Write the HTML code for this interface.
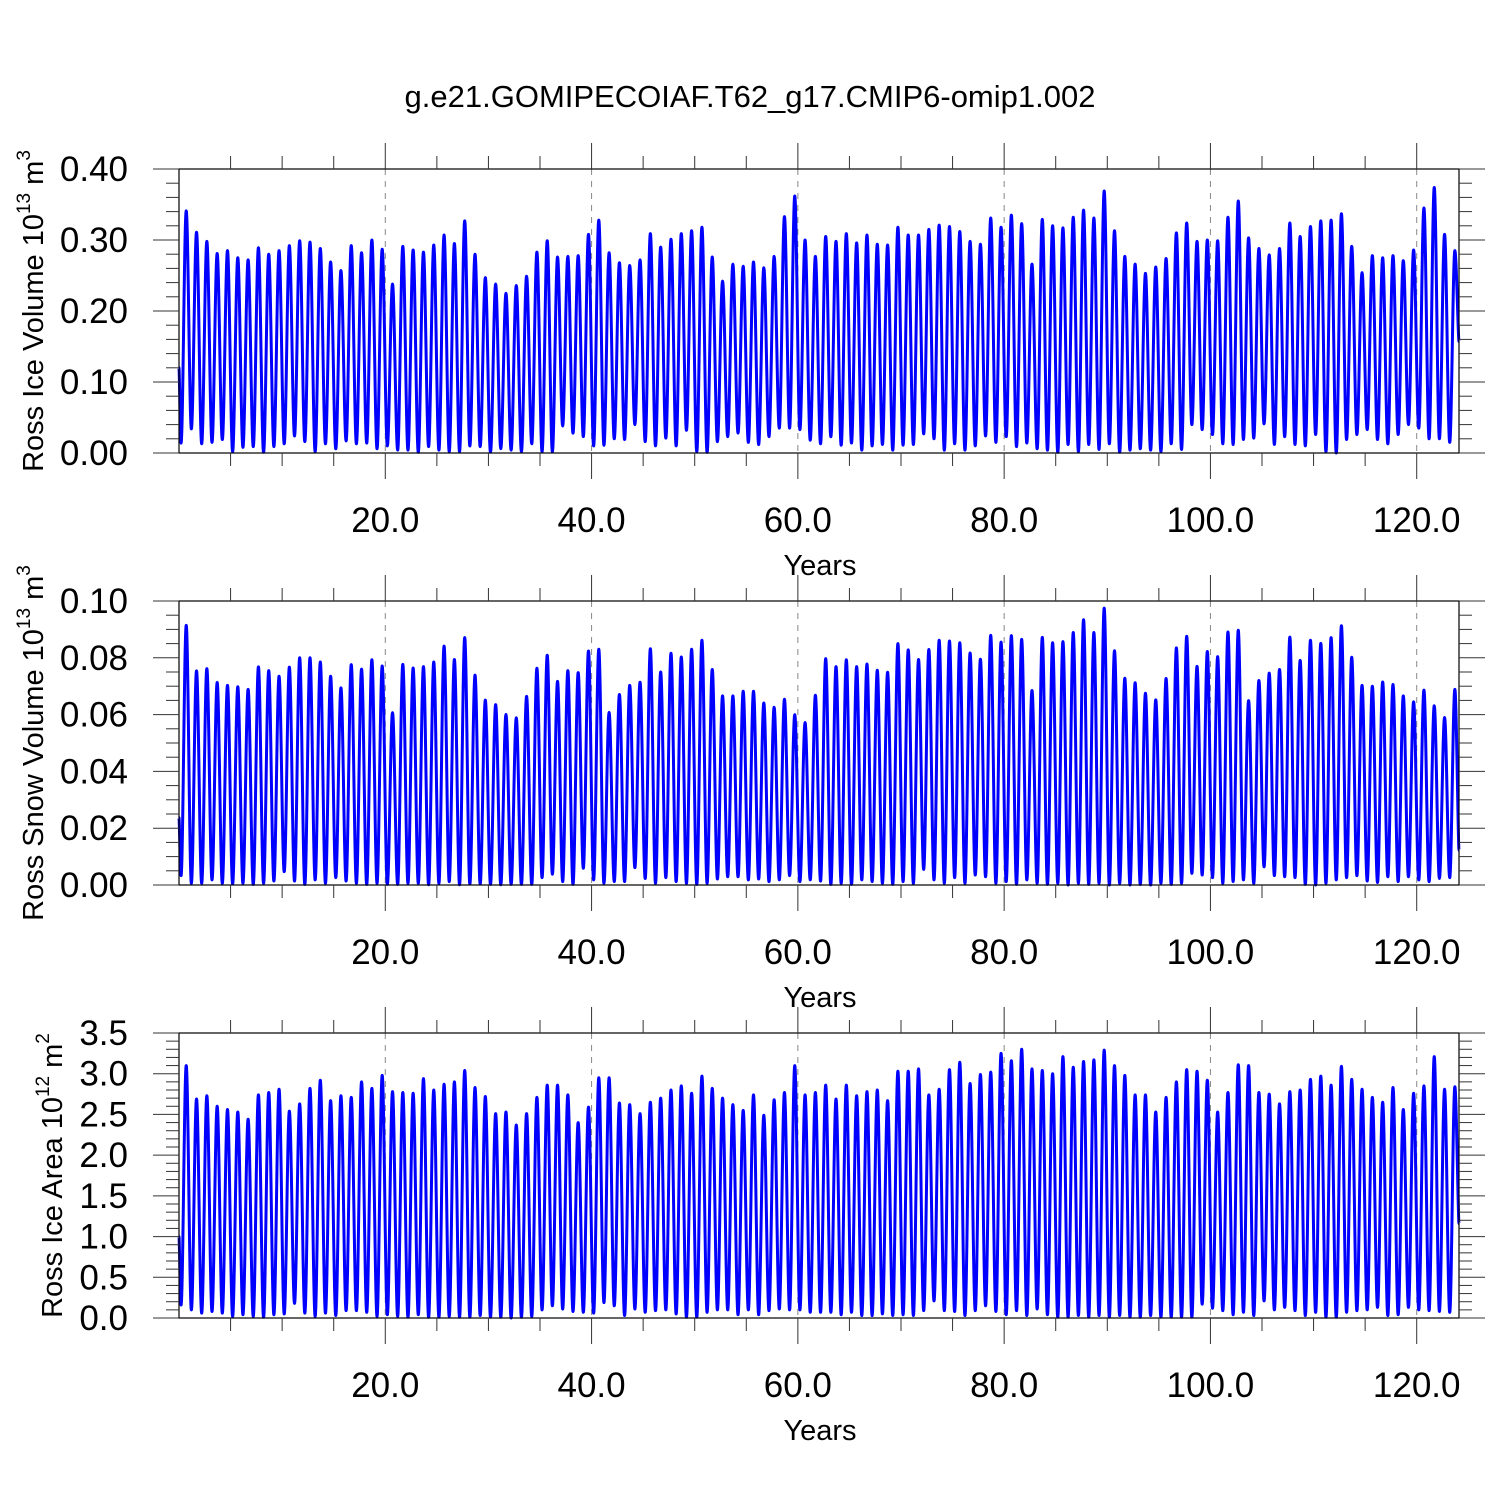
<!DOCTYPE html>
<html><head><meta charset="utf-8">
<style>
html,body{margin:0;padding:0;background:#fff;}
svg{display:block;font-family:"Liberation Sans",Arial,sans-serif;}
</style></head>
<body>
<svg id="chart" width="1500" height="1500" viewBox="0 0 1500 1500">
<text x="750" y="107" font-size="31" text-anchor="middle">g.e21.GOMIPECOIAF.T62_g17.CMIP6-omip1.002</text>
</svg>
<script>
// ---- data ----
var xTickLabels = ["20.0","40.0","60.0","80.0","100.0","120.0"];
var xTickValues = [20,40,60,80,100,120];

var iceVolStart = 0.12;
var iceVolEnd = 0.157;
var iceVolPeaks = [0.341,0.311,0.298,0.281,0.285,0.275,0.272,0.289,0.280,0.285,0.292,0.299,0.297,0.288,0.269,0.257,0.292,0.282,0.300,0.287,0.238,0.291,0.286,0.283,0.293,0.307,0.295,0.327,0.280,0.247,0.238,0.225,0.236,0.249,0.283,0.299,0.276,0.277,0.278,0.308,0.328,0.282,0.268,0.264,0.272,0.309,0.290,0.301,0.309,0.313,0.318,0.276,0.242,0.266,0.263,0.269,0.261,0.277,0.333,0.362,
0.300,0.277,0.305,0.298,0.309,0.296,0.307,0.294,0.293,0.318,0.307,0.307,0.315,0.321,0.319,0.312,0.298,0.294,0.331,0.318,0.335,0.323,0.266,0.329,0.320,0.317,0.332,0.342,0.331,0.369,0.313,0.277,0.266,0.253,0.262,0.274,0.310,0.324,0.298,0.300,0.299,0.332,0.355,0.303,0.288,0.279,0.288,0.324,0.305,0.319,0.327,0.328,0.337,0.291,0.254,0.278,0.275,0.278,0.271,0.286,0.345,0.374,0.308,0.285];
var iceVolMins = [0.014,0.034,0.013,0.015,0.019,0.002,0.008,0.009,0.001,0.009,0.013,0.024,0.016,0.002,0.013,0.006,0.017,0.013,0.014,0.006,0.010,0.004,0.004,0.001,0.009,0.004,0.002,0.002,0.010,0.009,0.001,0.006,0.004,0.002,0.013,0.002,0.002,0.038,0.028,0.023,0.010,0.011,0.020,0.019,0.040,0.016,0.010,0.021,0.010,0.032,0.002,0.001,0.016,0.023,0.028,0.015,0.012,0.023,0.035,0.035,
0.033,0.018,0.013,0.023,0.011,0.014,0.004,0.010,0.012,0.004,0.011,0.012,0.027,0.020,0.004,0.013,0.004,0.010,0.024,0.015,0.023,0.009,0.014,0.006,0.004,0.001,0.012,0.002,0.012,0.005,0.013,0.001,0.004,0.006,0.004,0.002,0.013,0.005,0.040,0.033,0.026,0.013,0.012,0.019,0.021,0.041,0.012,0.023,0.012,0.010,0.026,0.002,0.000,0.019,0.026,0.033,0.019,0.013,0.026,0.040,0.035,0.020,0.020,0.015];

var snowStart = 0.0237;
var snowEnd = 0.0123;
var snowPeaks = [0.0914,0.0754,0.0762,0.0713,0.0703,0.0698,0.0689,0.0768,0.0755,0.0735,0.0767,0.0800,0.0800,0.0785,0.0735,0.0694,0.0776,0.0760,0.0793,0.0771,0.0607,0.0777,0.0764,0.0769,0.0785,0.0841,0.0794,0.0871,0.0739,0.0651,0.0635,0.0601,0.0589,0.0664,0.0763,0.0809,0.0717,0.0755,0.0748,0.0824,0.0830,0.0608,0.0671,0.0703,0.0714,0.0832,0.0750,0.0816,0.0803,0.0830,0.0862,0.0759,0.0666,0.0666,0.0682,0.0682,0.0641,0.0626,0.0654,0.0600,
0.0572,0.0668,0.0797,0.0769,0.0793,0.0769,0.0778,0.0756,0.0749,0.0850,0.0828,0.0794,0.0829,0.0862,0.0859,0.0853,0.0817,0.0795,0.0879,0.0855,0.0878,0.0865,0.0685,0.0872,0.0853,0.0857,0.0889,0.0934,0.0889,0.0975,0.0825,0.0728,0.0712,0.0675,0.0652,0.0727,0.0835,0.0876,0.0770,0.0822,0.0804,0.0891,0.0897,0.0649,0.0720,0.0746,0.0759,0.0873,0.0791,0.0862,0.0851,0.0871,0.0913,0.0802,0.0703,0.0700,0.0715,0.0706,0.0666,0.0645,0.0686,0.0631,0.0590,0.0689];
var snowMins = [0.0033,0.0006,0.0006,0.0018,0.0006,0.0004,0.0006,0.0002,0.0006,0.0014,0.0047,0.0014,0.0002,0.0018,0.0006,0.0026,0.0014,0.0006,0.0002,0.0006,0.0002,0.0002,0.0006,0.0006,0.0001,0.0006,0.0012,0.0001,0.0004,0.0004,0.0002,0.0001,0.0002,0.0002,0.0002,0.0026,0.0038,0.0012,0.0002,0.0059,0.0018,0.0006,0.0012,0.0012,0.0061,0.0023,0.0006,0.0026,0.0012,0.0006,0.0002,0.0006,0.0021,0.0029,0.0029,0.0018,0.0021,0.0012,0.0018,0.0033,
0.0012,0.0018,0.0014,0.0002,0.0006,0.0002,0.0018,0.0012,0.0006,0.0002,0.0012,0.0006,0.0055,0.0018,0.0006,0.0026,0.0006,0.0035,0.0029,0.0006,0.0012,0.0002,0.0018,0.0006,0.0002,0.0006,0.0000,0.0006,0.0002,0.0006,0.0000,0.0006,0.0000,0.0002,0.0000,0.0006,0.0002,0.0006,0.0041,0.0035,0.0026,0.0006,0.0012,0.0018,0.0006,0.0064,0.0033,0.0029,0.0026,0.0002,0.0000,0.0006,0.0018,0.0026,0.0033,0.0014,0.0009,0.0029,0.0012,0.0029,0.0018,0.0012,0.0023,0.0026];

var areaStart = 1.0;
var areaEnd = 1.16;
var areaPeaks = [3.10,2.69,2.73,2.60,2.56,2.53,2.44,2.74,2.77,2.81,2.54,2.63,2.82,2.92,2.67,2.73,2.71,2.90,2.82,2.98,2.78,2.77,2.76,2.94,2.80,2.87,2.90,3.04,2.83,2.72,2.51,2.53,2.37,2.51,2.71,2.86,2.86,2.74,2.40,2.59,2.95,2.95,2.64,2.62,2.51,2.65,2.70,2.80,2.85,2.76,2.97,2.82,2.70,2.62,2.55,2.74,2.49,2.68,2.77,3.10,
2.74,2.77,2.86,2.69,2.86,2.73,2.78,2.80,2.67,3.03,3.03,3.06,2.74,2.81,3.05,3.14,2.88,2.99,3.02,3.25,3.16,3.30,3.06,3.04,3.00,3.21,3.08,3.15,3.17,3.29,3.10,2.98,2.74,2.74,2.53,2.71,2.90,3.05,3.03,2.92,2.53,2.77,3.11,3.10,2.77,2.75,2.63,2.78,2.80,2.93,2.97,2.86,3.09,2.93,2.81,2.71,2.65,2.83,2.56,2.76,2.85,3.21,2.81,2.84];
var areaMins = [0.16,0.10,0.06,0.08,0.06,0.02,0.04,0.02,0.01,0.04,0.05,0.18,0.06,0.02,0.06,0.03,0.09,0.09,0.07,0.02,0.04,0.02,0.01,0.04,0.01,0.01,0.02,0.01,0.01,0.03,0.01,0.01,0.00,0.01,0.02,0.10,0.15,0.11,0.08,0.07,0.06,0.19,0.15,0.03,0.11,0.07,0.09,0.10,0.05,0.01,0.01,0.07,0.10,0.10,0.04,0.10,0.04,0.09,0.11,0.10,
0.10,0.07,0.07,0.07,0.04,0.07,0.03,0.03,0.05,0.03,0.04,0.03,0.09,0.21,0.09,0.08,0.03,0.09,0.15,0.08,0.04,0.09,0.03,0.11,0.04,0.01,0.01,0.03,0.01,0.03,0.01,0.03,0.01,0.01,0.03,0.01,0.01,0.01,0.01,0.17,0.12,0.09,0.04,0.07,0.03,0.21,0.10,0.13,0.09,0.03,0.07,0.01,0.01,0.07,0.09,0.10,0.13,0.03,0.04,0.13,0.10,0.09,0.08,0.07];

var volTickLabels = ["0.00","0.10","0.20","0.30","0.40"];
var snowTickLabels = ["0.00","0.02","0.04","0.06","0.08","0.10"];
var areaTickLabels = ["0.0","0.5","1.0","1.5","2.0","2.5","3.0","3.5"];

// ---- drawing ----
var NS = "http://www.w3.org/2000/svg";
var svg = document.getElementById('chart');
var X0 = 179, X1 = 1459, XMIN = 0, XMAX = 124.1;
function xScale(v){ return X0 + (v - XMIN) / (XMAX - XMIN) * (X1 - X0); }
function mk(tag, attrs, parent){
  var e = document.createElementNS(NS, tag);
  for (var k in attrs) e.setAttribute(k, attrs[k]);
  (parent || svg).appendChild(e);
  return e;
}

function drawPanel(cfg){
  var g = mk('g', {});
  
  
  var top = cfg.top, bot = cfg.bottom;
  function yScale(v){ return bot - (v - cfg.ymin) / (cfg.ymax - cfg.ymin) * (bot - top); }

  xTickValues.forEach(function(v){
    var l = mk('line', {x1:xScale(v), x2:xScale(v), y1:top, y2:bot, stroke:'#888', 'stroke-width':1, 'stroke-dasharray':'6 6'}, g);
    
    
  });

  var pts = [[0, cfg.start]];
  var n = Math.max(cfg.peaks.length, cfg.mins.length);
  for (var k = 0; k < n; k++){
    if (k < cfg.mins.length) pts.push([k + 0.2, cfg.mins[k]]);
    if (k < cfg.peaks.length) pts.push([k + 0.7, cfg.peaks[k]]);
  }
  pts.push([XMAX, cfg.end]);
  var d = 'M' + xScale(pts[0][0]).toFixed(2) + ' ' + yScale(pts[0][1]).toFixed(2);
  for (var i = 1; i < pts.length; i++){
    var xa = xScale(pts[i-1][0]), ya = yScale(pts[i-1][1]);
    var xb = xScale(pts[i][0]), yb = yScale(pts[i][1]);
    var dx = xb - xa;
    var c1 = (i === 1) ? 0.2 : 0.36;
    var c2 = (i === pts.length - 1) ? 0.2 : 0.36;
    d += ' C' + (xa + dx*c1).toFixed(2) + ' ' + ya.toFixed(2) + ' ' + (xb - dx*c2).toFixed(2) + ' ' + yb.toFixed(2) + ' ' + xb.toFixed(2) + ' ' + yb.toFixed(2);
  }
  var p = mk('path', {d:d, fill:'none', stroke:'#0000ff', 'stroke-width':3, 'stroke-linejoin':'round'}, g);
  
  

  var fr = mk('rect', {x:X0, y:top, width:X1-X0, height:bot-top, fill:'none', stroke:'#000', 'stroke-width':1.2}, g);
  
  

  var nMinor = Math.round((cfg.ymax - cfg.ymin) / cfg.minor);
  for (var j = 0; j <= nMinor; j++){
    var v = cfg.ymin + j * cfg.minor;
    var isMajor = (j % cfg.perMajor) === 0;
    var len = isMajor ? 26 : 13;
    var y = yScale(v);
    mk('line', {x1:X0-len, x2:X0, y1:y, y2:y, stroke:'#333', 'stroke-width':1}, g);
    mk('line', {x1:X1, x2:X1+len, y1:y, y2:y, stroke:'#333', 'stroke-width':1}, g);
  }
  cfg.labels.forEach(function(lab, idx){
    var t = mk('text', {x:128, y:yScale(cfg.ymin + idx*cfg.minor*cfg.perMajor) + 12, 'font-size':35, 'text-anchor':'end'}, g);
    t.textContent = lab;
    
    
  });

  for (var yr = 5; yr < XMAX; yr += 5){
    var isM = (yr % 20) === 0;
    var ln = isM ? 26 : 13;
    var xx = xScale(yr);
    mk('line', {x1:xx, x2:xx, y1:top-ln, y2:top, stroke:'#333', 'stroke-width':1}, g);
    mk('line', {x1:xx, x2:xx, y1:bot, y2:bot+ln, stroke:'#333', 'stroke-width':1}, g);
  }
  xTickValues.forEach(function(v, idx){
    var t = mk('text', {x:xScale(v), y:bot + 79, 'font-size':35, 'text-anchor':'middle'}, g);
    t.textContent = xTickLabels[idx];
    
    
  });
  var xt = mk('text', {x:820, y:bot + 122, 'font-size':29, 'text-anchor':'middle'}, g);
  xt.textContent = 'Years';
  
  

  var cy = (top + bot) / 2;
  var yt = mk('text', {transform:'translate(' + cfg.titleX + ',' + cy + ') rotate(-90)', 'font-size':29, 'text-anchor':'middle'}, g);
  
  
  var parts = [[cfg.title, 0, 29], [cfg.exp, -13, 19], [' m', 13, 29], [cfg.unitExp, -13, 19]];
  parts.forEach(function(pt){
    var ts = mk('tspan', {dy:pt[1], 'font-size':pt[2]}, yt);
    ts.textContent = pt[0];
  });
}

drawPanel({name:'ice-volume-panel', seriesName:'ice-volume-line', top:169, bottom:453, ymin:0, ymax:0.4, minor:0.02, perMajor:5,
  labels:volTickLabels, peaks:iceVolPeaks, mins:iceVolMins, start:iceVolStart, end:iceVolEnd,
  titleX:43, title:'Ross Ice Volume 10', exp:'13', unitExp:'3'});
drawPanel({name:'snow-volume-panel', seriesName:'snow-volume-line', top:601, bottom:885, ymin:0, ymax:0.1, minor:0.005, perMajor:4,
  labels:snowTickLabels, peaks:snowPeaks, mins:snowMins, start:snowStart, end:snowEnd,
  titleX:43, title:'Ross Snow Volume 10', exp:'13', unitExp:'3'});
drawPanel({name:'ice-area-panel', seriesName:'ice-area-line', top:1033, bottom:1318, ymin:0, ymax:3.5, minor:0.1, perMajor:5,
  labels:areaTickLabels, peaks:areaPeaks, mins:areaMins, start:areaStart, end:areaEnd,
  titleX:62, title:'Ross Ice Area 10', exp:'12', unitExp:'2'});
</script>
</body></html>
